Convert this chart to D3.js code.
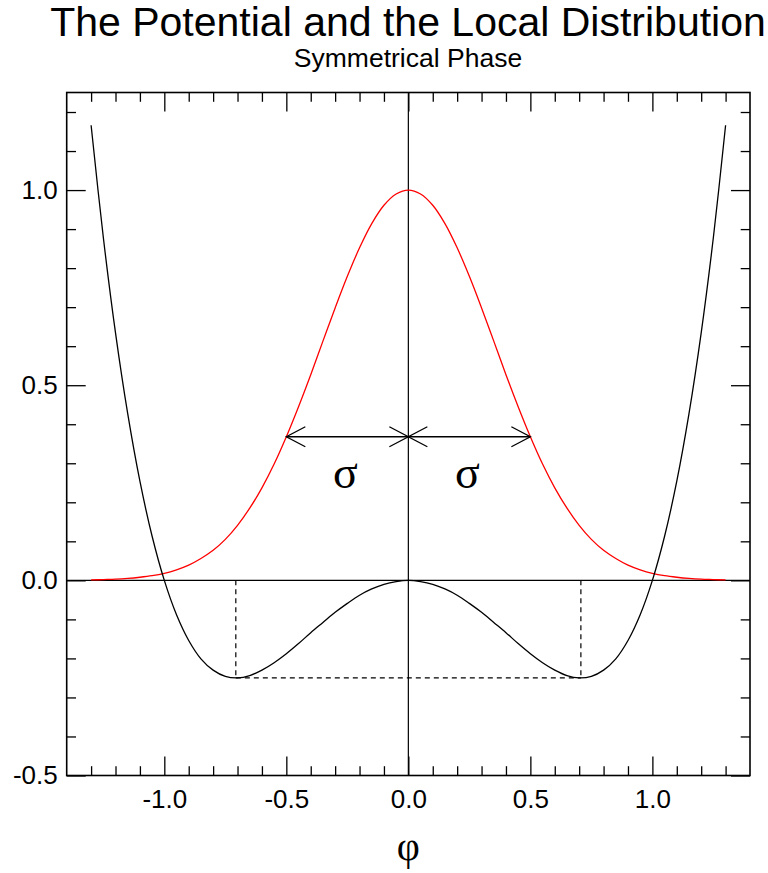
<!DOCTYPE html>
<html>
<head>
<meta charset="utf-8">
<script src="https://cdn.jsdelivr.net/npm/d3@7"></script>
<style>
  body { margin: 0; background: #fff; }
  text { fill: #000; }
</style>
</head>
<body>
<svg id="chart" width="768" height="873"></svg>
<script>
// Field values phi sampled across the plotted range
const phi = [-1.30,-1.25,-1.20,-1.15,-1.10,-1.05,-1.00,-0.95,-0.90,-0.85,-0.80,-0.75,-0.70,-0.65,-0.60,-0.55,-0.50,-0.45,-0.40,-0.35,-0.30,-0.25,-0.20,-0.15,-0.10,-0.05,
             0.00,0.05,0.10,0.15,0.20,0.25,0.30,0.35,0.40,0.45,0.50,0.55,0.60,0.65,0.70,0.75,0.80,0.85,0.90,0.95,1.00,1.05,1.10,1.15,1.20,1.25,1.30];

// Double-well potential V(phi) (black)
const potential = [1.166,0.879,0.634,0.427,0.254,0.113,0.000,-0.088,-0.154,-0.201,-0.230,-0.246,-0.250,-0.244,-0.230,-0.211,-0.188,-0.162,-0.134,-0.108,-0.082,-0.059,-0.038,-0.022,-0.010,-0.003,
                   0.000,-0.003,-0.010,-0.022,-0.038,-0.059,-0.082,-0.108,-0.134,-0.162,-0.188,-0.211,-0.230,-0.244,-0.250,-0.246,-0.230,-0.201,-0.154,-0.088,0.000,0.113,0.254,0.427,0.634,0.879,1.166];

// Local distribution of phi in the symmetrical phase (red)
const distribution = [0.001,0.002,0.003,0.005,0.008,0.012,0.018,0.027,0.039,0.056,0.077,0.105,0.141,0.185,0.237,0.298,0.368,0.445,0.527,0.613,0.698,0.779,0.852,0.914,0.961,0.990,
                      1.000,0.990,0.961,0.914,0.852,0.779,0.698,0.613,0.527,0.445,0.368,0.298,0.237,0.185,0.141,0.105,0.077,0.056,0.039,0.027,0.018,0.012,0.008,0.005,0.003,0.002,0.001];

// Minima of the potential and the width marker
const wellPositions = [-0.707, 0.707];
const wellDepth = -0.25;
const sigma = 0.5;
const sigmaLevel = 0.368;

// Axis ticks
const xMajorTicks = [-1.0, -0.5, 0.0, 0.5, 1.0];
const xTickLabels = ["-1.0", "-0.5", "0.0", "0.5", "1.0"];
const yMajorTicks = [-0.5, 0.0, 0.5, 1.0];
const yTickLabels = ["-0.5", "0.0", "0.5", "1.0"];

const titleText = "The Potential and the Local Distribution";
const subtitleText = "Symmetrical Phase";
const xLabel = "φ";
const sigmaLabel = "σ";

const svg = d3.select("#chart");
const plotLeft = 66.7, plotRight = 750, plotTop = 92.5, plotBottom = 775.5;

const x = d3.scaleLinear().domain([-1.4, 1.4]).range([plotLeft, plotRight]);
const y = d3.scaleLinear().domain([-0.5, 1.25]).range([plotBottom, plotTop]);

const sans = "'Liberation Sans', Arial, Helvetica, sans-serif";
const serif = "'Liberation Serif', 'Times New Roman', serif";

// Titles
svg.append("text").attr("x", 408).attr("y", 36).attr("text-anchor", "middle")
  .style("font-family", sans).style("font-size", "41px").text(titleText);
svg.append("text").attr("x", 408).attr("y", 67).attr("text-anchor", "middle")
  .style("font-family", sans).style("font-size", "26.5px").text(subtitleText);

// Axes: inward major and minor ticks on all four sides
const isHalf = v => Math.abs(v * 2 - Math.round(v * 2)) < 1e-6;
const xMinor = d3.range(-13, 14).map(d => d / 10).filter(v => !isHalf(v));
const yMinor = d3.range(-4, 13).map(d => d / 10).filter(v => !isHalf(v));
const majorLen = 19, minorLen = 9.3;
const xLab = d => xTickLabels[xMajorTicks.indexOf(d)];
const yLab = d => yTickLabels[yMajorTicks.indexOf(d)];

function styleAxis(g) {
  g.select(".domain").remove();
  g.selectAll(".tick line").attr("stroke", "#000").attr("stroke-width", 1.3);
  g.selectAll(".tick text").style("font-family", sans).style("font-size", "26px").attr("fill", "#000");
}

svg.append("g").attr("transform", `translate(0,${plotBottom})`)
  .call(d3.axisBottom(x).tickValues(xMajorTicks).tickSize(-majorLen).tickPadding(14).tickFormat(xLab)).call(styleAxis);
svg.append("g").attr("transform", `translate(0,${plotBottom})`)
  .call(d3.axisBottom(x).tickValues(xMinor).tickSize(-minorLen).tickFormat("")).call(styleAxis);
svg.append("g").attr("transform", `translate(0,${plotTop})`)
  .call(d3.axisTop(x).tickValues(xMajorTicks).tickSize(-majorLen).tickFormat("")).call(styleAxis);
svg.append("g").attr("transform", `translate(0,${plotTop})`)
  .call(d3.axisTop(x).tickValues(xMinor).tickSize(-minorLen).tickFormat("")).call(styleAxis);
svg.append("g").attr("transform", `translate(${plotLeft},0)`)
  .call(d3.axisLeft(y).tickValues(yMajorTicks).tickSize(-majorLen).tickPadding(9).tickFormat(yLab)).call(styleAxis);
svg.append("g").attr("transform", `translate(${plotLeft},0)`)
  .call(d3.axisLeft(y).tickValues(yMinor).tickSize(-minorLen).tickFormat("")).call(styleAxis);
svg.append("g").attr("transform", `translate(${plotRight},0)`)
  .call(d3.axisRight(y).tickValues(yMajorTicks).tickSize(-majorLen).tickFormat("")).call(styleAxis);
svg.append("g").attr("transform", `translate(${plotRight},0)`)
  .call(d3.axisRight(y).tickValues(yMinor).tickSize(-minorLen).tickFormat("")).call(styleAxis);

// Frame
svg.append("rect").attr("x", plotLeft).attr("y", plotTop)
  .attr("width", plotRight - plotLeft).attr("height", plotBottom - plotTop)
  .attr("fill", "none").attr("stroke", "#000").attr("stroke-width", 1.6);

// Zero lines
svg.append("line").attr("x1", x(0)).attr("x2", x(0)).attr("y1", plotTop).attr("y2", plotBottom)
  .attr("stroke", "#000").attr("stroke-width", 1.2);
svg.append("line").attr("x1", plotLeft).attr("x2", plotRight).attr("y1", y(0)).attr("y2", y(0))
  .attr("stroke", "#000").attr("stroke-width", 1.2);

// Curves
const rows = phi.map((p, i) => ({ p, v: potential[i], d: distribution[i] }));
const curve = d3.curveCatmullRom.alpha(0.5);
svg.append("path").datum(rows)
  .attr("d", d3.line().x(r => x(r.p)).y(r => y(r.d)).curve(curve))
  .attr("fill", "none").attr("stroke", "#ff0000").attr("stroke-width", 1.3);
svg.append("path").datum(rows)
  .attr("d", d3.line().x(r => x(r.p)).y(r => y(r.v)).curve(curve))
  .attr("fill", "none").attr("stroke", "#000").attr("stroke-width", 1.3);

// Dashed lines marking the two minima
const dash = svg.append("g").attr("stroke", "#000").attr("stroke-width", 1.2)
  .attr("stroke-dasharray", "5,4").attr("fill", "none");
wellPositions.forEach(w => {
  dash.append("line").attr("x1", x(w)).attr("x2", x(w)).attr("y1", y(0)).attr("y2", y(wellDepth));
});
dash.append("line").attr("x1", x(wellPositions[0])).attr("x2", x(wellPositions[1]))
  .attr("y1", y(wellDepth)).attr("y2", y(wellDepth));

// Width arrows: 0 -> -sigma and 0 -> +sigma, heads on both ends
const headL = 19, headW = 10;
const arrows = svg.append("g").attr("stroke", "#000").attr("stroke-width", 1.3).attr("fill", "none");
function head(px, py, dir) {
  const p = d3.path();
  p.moveTo(px - dir * headL, py - headW);
  p.lineTo(px, py);
  p.lineTo(px - dir * headL, py + headW);
  return p.toString();
}
[-1, 1].forEach(s => {
  const x0 = x(0), x1 = x(s * sigma), yy = y(sigmaLevel);
  arrows.append("line").attr("x1", x0).attr("x2", x1).attr("y1", yy).attr("y2", yy);
  arrows.append("path").attr("d", head(x1, yy, s));
  arrows.append("path").attr("d", head(x0, yy, -s));
  svg.append("text").attr("x", x(s * sigma / 2) - 2).attr("y", y(sigmaLevel) + 51)
    .attr("text-anchor", "middle").style("font-family", serif).style("font-size", "46px").text(sigmaLabel);
});

// X-axis title
svg.append("text").attr("x", x(0)).attr("y", 860).attr("text-anchor", "middle")
  .style("font-family", serif).style("font-size", "40px").text(xLabel);
</script>
</body>
</html>
